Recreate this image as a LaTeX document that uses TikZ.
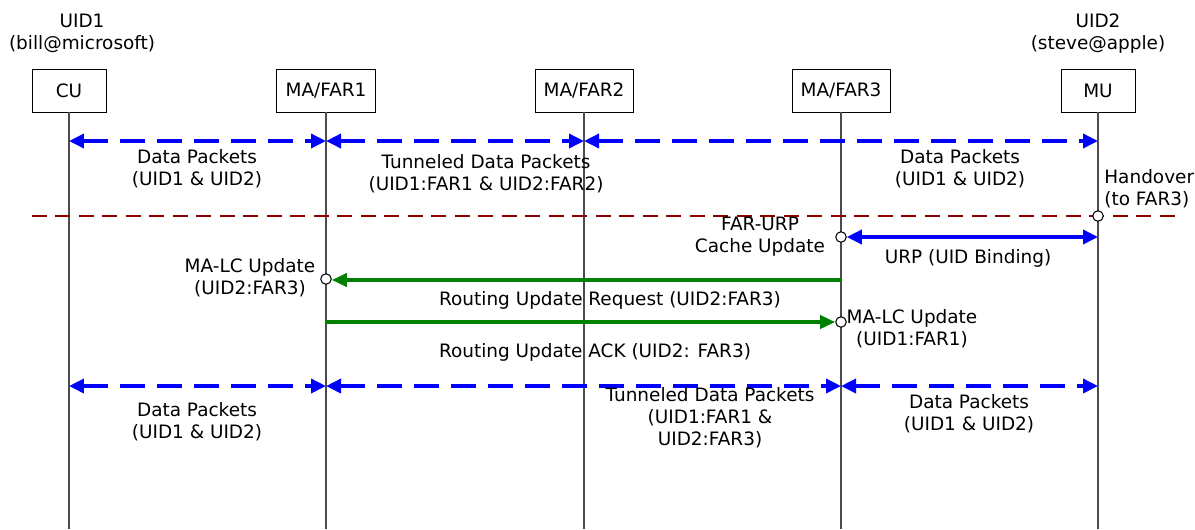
\documentclass[tikz,border=0pt]{standalone}
\usepackage{fontspec}
\setmainfont{DejaVu Sans}
\usetikzlibrary{positioning,arrows.meta}
\tikzset{
entity/.style={
draw,
fill=white,
minimum height=0.86cm,
inner sep=0pt,
align=center
},
lifeline/.style={
line width=0.7pt,
black!70
},
datapath/.style={
{Triangle[length=3mm,width=2.8mm]}-{Triangle[length=3mm,width=2.8mm]},
blue,
line width=2pt,
dash pattern=on 5mm off 2.4mm
},
signal/.style={
-{Triangle[length=3mm,width=2.6mm]},
green!50!black,
line width=2pt
},
binding/.style={
{Triangle[length=3mm,width=2.8mm]}-{Triangle[length=3mm,width=2.8mm]},
blue,
line width=2pt
},
handover/.style={
line width=1.1pt,
red!55!black,
dash pattern=on 3mm off 1.7mm
},
event/.style={
circle,
draw,
fill=white,
inner sep=0pt,
minimum size=2.1mm,
line width=0.6pt
},
msg/.style={
align=center,
inner sep=0pt
}
}

\begin{document}
\begin{tikzpicture}[x=0.02cm,y=-0.02cm,font=\fontsize{10.5}{12.5}\selectfont]

\useasboundingbox (0,0) rectangle (1195,529);

% entities
\node[entity,minimum width=1.48cm](cu) at (69,90.5){CU};

\node[entity,minimum width=1.98cm](far1) at (326,90.5){MA/FAR1};

\node[entity,minimum width=1.96cm](far2) at (584,90.5){MA/FAR2};

\node[entity,minimum width=1.96cm](far3) at (841,90.5){MA/FAR3};

\node[entity,minimum width=1.48cm](mu) at (1098,90.5){MU};

\node[msg](uid1) at (82,33.5){UID1\\(bill@microsoft)};

\node[msg](uid2) at (1098,33.5){UID2\\(steve@apple)};

% lifelines
\foreach \n in {cu,far1,far2,far3,mu}{
\coordinate (\n-end) at (\n |- 0,529);
\coordinate (\n-r1) at (\n |- 0,141);
\coordinate (\n-r2) at (\n |- 0,386);
\draw[lifeline] (\n.south) -- (\n-end);
}

% data packets before handover
\draw[datapath](cu-r1)--(far1-r1);

\draw[datapath](far1-r1)--(far2-r1);

\draw[datapath](far2-r1)--(mu-r1);

\node[msg](dp1) at (197,169){Data Packets\\(UID1 \& UID2)};

\node[msg](tdp1) at (486,174){Tunneled Data Packets\\(UID1:FAR1 \& UID2:FAR2)};

\node[msg](dp2) at (960,169){Data Packets\\(UID1 \& UID2)};

% handover
\coordinate (hleft) at (32,216);
\coordinate (hright) at (1175,216);

\draw[handover](hleft)--(hright);

\node[event](hoc) at (mu |- 0,216){};

\node[msg,align=left,anchor=west](hotext) at (1104,189){Handover\\(to FAR3)};

% binding update
\node[event](urpc) at (far3 |- 0,237){};

\coordinate (urpmu) at (mu |- 0,237);

\draw[binding](urpc)--(urpmu);

\node[msg](urptext) at (968,258){URP (UID Binding)};

\node[msg](cachetext) at (760,237){FAR-URP\\Cache Update};

% location updates
\coordinate (lc1src) at (far3 |- 0,280);

\node[event](lc1) at (far1 |- 0,279){};

\draw[signal](lc1src)--(lc1.east |- lc1src);

\node[msg](lc1text) at (250,277.5){MA-LC Update\\(UID2:FAR3)};

\node[msg](rreq) at (610,300){Routing Update Request (UID2:FAR3)};

\coordinate (lc2src) at (far1 |- 0,322);

\node[event](lc2) at (far3 |- 0,322){};

\draw[signal](lc2src)--(lc2);

\node[msg](lc2text) at (912,329){MA-LC Update\\(UID1:FAR1)};

\node[msg](rack) at (595,352){Routing Update ACK (UID2: FAR3)};

% data packets after handover
\draw[datapath](cu-r2)--(far1-r2);

\draw[datapath](far1-r2)--(far3-r2);

\draw[datapath](far3-r2)--(mu-r2);

\node[msg](dp3) at (197,422){Data Packets\\(UID1 \& UID2)};

\node[msg](tdp2) at (710,418){Tunneled Data Packets\\(UID1:FAR1 \&\\UID2:FAR3)};

\node[msg](dp4) at (969,414){Data Packets\\(UID1 \& UID2)};

\end{tikzpicture}
\end{document}
